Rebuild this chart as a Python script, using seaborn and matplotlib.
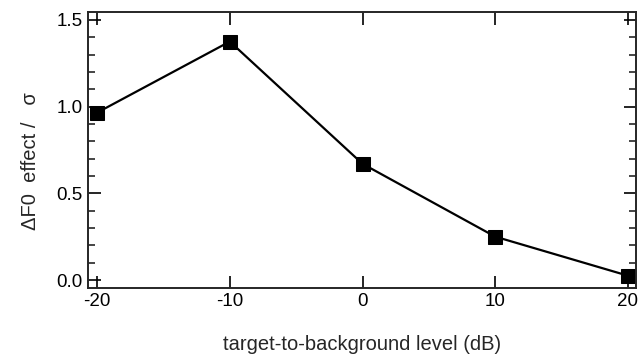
import pandas as pd
import seaborn as sns
import matplotlib.pyplot as plt
from matplotlib.ticker import MultipleLocator

# values
level_db = [-20, -10, 0, 10, 20]
f0_effect = [0.965, 1.375, 0.67, 0.25, 0.025]

df = pd.DataFrame({'level': level_db, 'effect': f0_effect})

sns.set_style('ticks')
plt.rcParams['font.family'] = ['Liberation Sans', 'DejaVu Sans']
plt.rcParams['axes.unicode_minus'] = False

fig = plt.figure(figsize=(6.41, 3.6), dpi=100)
ax = fig.add_axes([0.137, 0.2, 0.855, 0.767])

sns.lineplot(data=df, x='level', y='effect', ax=ax, color='black',
             marker='s', markersize=10, markeredgecolor='black',
             linewidth=1.6)

ax.set_xlim(-20.7, 20.6)
ax.set_ylim(-0.046, 1.546)
ax.set_xticks(level_db)
ax.yaxis.set_major_locator(MultipleLocator(0.5))
ax.yaxis.set_minor_locator(MultipleLocator(0.1))
ax.yaxis.set_major_formatter(plt.FormatStrFormatter('%.1f'))
ax.tick_params(direction='in', top=True, right=True, labelsize=13.5,
               length=9, width=1.2, colors='black')
ax.tick_params(which='minor', direction='in', right=True, length=5, width=1.2)
for s in ax.spines.values():
    s.set_linewidth(1.4)

ax.set_xlabel('target-to-background level (dB)', fontsize=14.5, labelpad=18)
ax.set_ylabel('ΔF0  effect /   σ', fontsize=14.5, labelpad=12)
ax.yaxis.label.set_y(0.46)

fig.savefig('out.png')
